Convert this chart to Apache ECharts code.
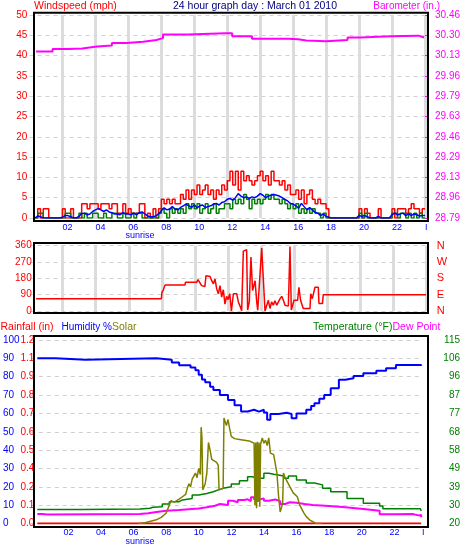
<!DOCTYPE html>
<html><head><meta charset="utf-8">
<script src="https://cdn.jsdelivr.net/npm/echarts@6/dist/echarts.min.js"></script>
<style>html,body{margin:0;padding:0;background:#fff}#c{width:463px;height:559px}</style>
</head><body><div id="c"></div>
<script>
// ---------- tick labels ----------
const hourLabels = ['', '02', '04', '06', '08', '10', '12', '14', '16', '18', '20', '22', 'I'];
const baroLabels = ['28.79','28.96','29.13','29.29','29.46','29.63','29.79','29.96','30.13','30.30','30.46'];
const dirLabels = ['N', 'E', 'S', 'W', 'N'];
const rainLabels = ['0.0','0.1','0.2','0.4','0.5','0.6','0.7','0.8','0.9','1.1','1.2'];
const tempLabels = ['20','30','39','49','58','68','77','87','96','106','115'];

// ---------- wind (10-minute samples, starting 00:00) ----------
const WIND_T0 = 0, WIND_DT = 1 / 6;
const windGust = [
  null,null,0,2.3,0,2.3,      // 00
  2.3,0,0,0,0,0,              // 01
  2.3,0,0,2.3,0,0,            // 02
  0,3.5,3.5,2.3,3.5,3.5,      // 03
  3.5,2.3,3.5,3.5,3.5,2.3,    // 04
  3.5,3.5,1.2,1.2,3.5,1.2,    // 05
  2.3,1.2,1.2,1.2,3.5,3.5,    // 06
  0,1.2,0,2.3,0,2.3,          // 07
  4.6,3.5,4.6,3.5,4.6,3.5,    // 08
  3.5,5.8,4.6,6.9,4.6,6.9,    // 09
  5.8,8.1,5.8,6.9,8.1,5.8,    // 10
  6.9,4.6,6.9,5.8,8.1,6.9,    // 11
  9.2,11.5,8.1,11.5,6.9,11.5, // 12
  9.2,10.4,9.2,8.1,9.2,10.4,  // 13
  11.5,9.2,10.4,8.1,11.5,9.2, // 14
  9.2,8.1,9.2,6.9,8.1,5.8,    // 15
  5.8,6.9,4.6,6.9,3.5,5.8,    // 16
  6.9,4.6,3.5,4.6,3.5,3.5,    // 17
  2.3,0,0,0,0,0,              // 18
  0,0,0,0,0,0,                // 19
  2.3,0,2.3,1.2,0,0,          // 20
  0,2.3,0,0,0,0,              // 21
  2.3,0,2.3,2.3,2.3,1.2,      // 22
  2.3,3.5,2.3,2.3,1.2,2.3     // 23
];
const windSpeed = [
  null,null,0,1.2,1.2,0,
  0,0,0,0,0,0,
  0,1.2,1.2,0,0,0,
  1.2,0,1.2,0,0,1.2,
  1.2,0,0,1.2,0,0,
  1.2,1.2,0,0,1.2,0,
  0,1.2,0,1.2,1.2,0,
  0,0,0,0,0,1.2,
  2.3,1.2,0,2.3,1.2,2.3,
  1.2,2.3,1.2,3.5,2.3,3.5,
  2.3,3.5,1.2,2.3,3.5,1.2,
  2.3,3.5,1.2,2.3,2.3,3.5,
  3.5,2.3,4.6,3.5,4.6,3.5,
  5.8,4.6,2.3,4.6,3.5,4.6,
  3.5,4.6,5.8,4.6,5.8,4.6,
  4.6,3.5,4.6,3.5,2.3,3.5,
  2.3,3.5,1.2,2.3,1.2,2.3,
  1.2,2.3,1.2,1.2,0,1.2,
  0,0,0,0,0,0,
  0,0,0,0,0,0,
  1.2,0,1.2,0,0,0,
  0,0,0,0,0,0,
  1.2,1.2,0,1.2,1.2,0,
  1.2,0,1.2,0,1.2,0
];
const windAvg = [
  null,null,0,0.5,0.3,0,
  0,0,0,0,0,0,
  0.2,0.6,0.6,0.3,0,0,
  0.4,1.1,1.2,0.8,1.0,1.6,
  2.0,2.3,2.0,1.6,2.0,1.5,
  1.3,1.0,1.0,0.8,1.3,1.0,
  1.0,0.8,1.2,0.8,1.3,1.5,
  1.0,0.5,0.3,0.3,0.5,1.0,
  1.8,2.5,2.0,2.2,2.8,2.2,
  2.0,2.6,3.0,3.4,3.0,2.6,
  3.2,2.5,3.0,3.2,2.6,2.8,
  3.0,3.4,3.6,3.2,3.8,4.0,
  4.6,4.8,4.4,5.0,6.0,5.4,
  5.0,5.2,4.8,5.2,5.0,5.4,
  6.0,5.6,5.0,5.4,5.6,5.8,
  5.6,5.4,5.0,4.6,4.2,3.6,
  3.4,3.0,2.4,3.6,2.8,2.0,
  2.6,2.0,1.4,1.2,0.6,1.0,
  0.4,0.2,0,0,0,0,
  0,0,0,0,0,0,
  0.6,0.4,0.6,0.3,0,0,
  0,0.4,0,0,0,0,
  0.8,1.2,0.8,1.0,1.2,0.6,
  1.0,0.6,1.0,0.8,0.5,0.6
];

// ---------- barometer (in.) ----------
const baroT = [0.4,1.4,2.3,3.2,4.1,5.0,5.9,6.9,7.7,8.1,9.6,11.9,12.3,13.5,15.7,16.3,16.8,18.0,19.3,20.1,21.9,23.6,23.95];
const baroV = [30.16,30.18,30.185,30.20,30.21,30.23,30.24,30.255,30.27,30.30,30.31,30.31,30.285,30.265,30.26,30.25,30.245,30.255,30.275,30.285,30.29,30.275,30.275];

// ---------- wind direction (deg) ----------
const dirT = [0.4,7.97,8.0,8.09,8.19,9.4,9.42,10.1,10.18,10.26,10.4,10.6,10.66,10.91,11.01,11.11,11.21,11.31,11.41,11.51,11.61,11.71,11.81,11.91,12.0,12.1,12.2,12.32,12.52,12.56,12.62,12.72,12.82,12.92,13.02,13.12,13.18,13.28,13.38,13.48,13.63,13.73,13.79,13.89,14.03,14.13,14.23,14.33,14.43,14.53,14.63,14.73,14.83,14.94,15.04,15.14,15.24,15.34,15.44,15.54,15.64,15.74,15.82,15.9,15.98,16.08,16.2,16.28,16.38,16.44,16.54,16.95,16.99,17.09,17.19,17.25,17.45,17.49,17.7,17.75,23.96];
const dirV = [68,68,103,117,144,144,158,158,173,176,140,135,194,190,167,150,176,122,95,140,77,117,38,81,63,95,0,95,95,86,50,27,2,330,333,338,5,50,297,113,167,50,5,14,347,338,0,5,59,14,50,32,56,32,50,68,81,59,32,32,27,356,5,32,59,50,59,131,59,50,14,14,95,68,59,131,131,41,41,90,90];

// ---------- humidity (%) ----------
const humT = [0.4,1.5,3.35,7.7,8.65,9.1,9.8,10.1,10.3,10.5,10.7,11.0,11.2,11.6,12.1,12.5,12.9,13.3,13.7,14.0,14.3,14.5,14.7,15.2,15.7,16.0,16.3,16.9,17.2,17.4,17.7,18.0,18.4,18.9,19.3,19.8,20.4,21.2,21.8,22.4,23.95];
const humV = [90,89.2,90,89.2,87.8,86.2,85,83.5,81,78.5,77,74.5,72.7,70,67.3,64.5,61,62,61,62,60.5,56.5,59.7,60.3,59.7,57.3,60,62,64,65.5,68,70,73.7,78.3,79.1,80.4,81.9,83.3,84.6,86.4,86];

// ---------- temperature & dew point (°F) ----------
const tempT = [0.4,3.1,6.7,7.3,7.5,8.07,8.5,9.1,9.3,9.9,10.3,10.8,11.2,11.5,11.8,12.3,12.8,13.3,13.6,13.9,14.3,14.6,14.9,15.2,15.5,15.8,16.3,16.9,17.4,17.9,18.4,19.4,20.4,21.4,21.6,23.9,23.95];
const tempV = [27.3,27.5,27.9,28.4,28.7,30.1,31.3,32.2,33.0,34.7,35.5,36.4,37.4,38.2,39.0,40.5,42.1,44.2,43.4,43.4,46.0,45.5,45.1,44.6,43.4,44.6,42.5,41.0,40.0,38.3,36.4,33.0,30.5,29.0,27.7,27.3,26.5];
const dewT = [0.4,0.7,1.0,6.7,7.2,7.6,8.3,9.1,9.7,10.3,10.8,11.3,11.6,12.1,12.4,12.7,13.1,13.3,13.5,13.7,14.0,14.3,14.6,15.0,15.3,15.6,15.9,16.3,16.8,17.3,18.3,19.3,20.4,21.4,22.4,23.4,23.8,23.95];
const dewV = [24.9,24.6,24.9,25.3,25.8,26.6,27.0,27.4,27.8,28.4,29.2,30.1,29.6,31.8,31.0,32.2,32.5,31.6,33.6,32.4,33.0,31.8,32.4,31.6,30.1,31.0,30.8,30.1,29.6,29.0,28.4,27.5,26.6,24.8,24.9,24.2,24.4,23.2];

// ---------- solar (W/m²) ----------
const solT = [6.6,7.0,7.7,8.0,8.3,8.5,8.6,8.8,9.1,9.3,9.5,9.6,9.7,9.8,9.9,10.0,10.1,10.2,10.3,10.4,10.45,10.5,10.55,10.7,10.8,10.9,11.0,11.1,11.2,11.4,11.5,11.55,11.8,11.85,11.95,12.0,12.1,12.2,12.3,12.5,12.8,13.1,13.4,13.7,13.75,13.8,13.85,13.9,13.95,14.0,14.05,14.1,14.2,14.3,14.4,14.5,14.6,14.7,14.9,15.0,15.1,15.2,15.3,15.4,15.45,15.5,15.6,15.7,15.9,16.1,16.35,16.5,16.75,16.9,17.1,17.5,17.85];
const solV = [0,5,24,40,67,120,150,140,160,175,190,230,260,240,290,280,330,300,360,320,630,560,220,260,330,530,480,420,410,400,380,220,230,690,700,640,680,620,570,555,550,545,540,525,120,530,100,535,140,530,110,520,560,525,545,510,560,460,450,440,330,180,75,80,130,330,300,290,240,200,175,120,70,45,24,0,0];

// ---------- rainfall (in) ----------
const rainT = [0.4, 23.95];
const rainV = [0, 0];

// ---------- helpers ----------
const pairs = (t, v) => t.map((x, i) => [x, v[i]]);
function windPairs(arr) {
  const d = arr.map((v, i) => [WIND_T0 + i * WIND_DT, v]);
  d.push([24, arr[arr.length - 1]]);
  return d;
}

const FONT = 'Liberation Sans';
const GL = 29.5, GR = 463 - 426.7;
const vGrid = ['transparent','#dcdcdc','#dcdcdc','#dcdcdc','#dcdcdc','#dcdcdc','#dcdcdc','#dcdcdc','#dcdcdc','#dcdcdc','#dcdcdc','#dcdcdc','#dcdcdc'];
const dash = { show: true, lineStyle: { color: '#d0d0d0', type: [4, 4], width: 1 } };

function xAx(grid, showLabels, vlines) {
  return {
    type: 'value', gridIndex: grid, min: 0, max: 24, interval: 2,
    axisLine: { show: false, onZero: false }, axisTick: { show: false },
    axisLabel: {
      show: showLabels, color: '#0000ff', fontFamily: FONT, fontSize: 9, margin: 5, align: 'left',
      formatter: v => hourLabels[Math.round(v / 2)]
    },
    splitLine: { show: vlines, lineStyle: { color: vGrid, width: 3 } }
  };
}

function labAx(grid, pos, labels, color, extra) {
  return Object.assign({
    type: 'value', gridIndex: grid, position: pos, min: 0, max: labels.length - 1, interval: 1,
    axisLine: { show: false }, axisTick: { show: false }, splitLine: { show: false },
    axisLabel: { color: color, fontFamily: FONT, fontSize: 10, formatter: v => labels[Math.round(v)] }
  }, extra || {});
}

function hidAx(grid, min, max) {
  return { type: 'value', gridIndex: grid, min: min, max: max, show: false, splitLine: { show: false } };
}

const option = {
  animation: false,
  grid: [
    { left: GL, right: GR, top: 15, height: 203 },
    { left: GL, right: GR, top: 245.7, height: 65.3 },
    { left: GL, right: GR, top: 340, height: 183.5 }
  ],
  xAxis: [xAx(0, true, true), xAx(1, false, true), xAx(2, true, false)],
  yAxis: [
    { type: 'value', gridIndex: 0, position: 'left', min: 0, max: 50, interval: 5,
      axisLine: { show: false }, axisTick: { show: false }, splitLine: dash,
      axisLabel: { color: '#ff0000', fontFamily: FONT, fontSize: 10, margin: 2.2 } },
    labAx(0, 'right', baroLabels, '#ff00ff', {
      axisTick: { show: true, length: 4, lineStyle: { color: '#ff00ff', width: 1 } },
      axisLabel: { color: '#ff00ff', fontFamily: FONT, fontSize: 10, margin: 10, formatter: v => baroLabels[Math.round(v)] } }),
    hidAx(0, 28.79, 30.46),
    { type: 'value', gridIndex: 1, position: 'left', min: 0, max: 360, interval: 90,
      axisLine: { show: false }, axisTick: { show: false }, splitLine: dash,
      axisLabel: { color: '#ff0000', fontFamily: FONT, fontSize: 10, margin: -2.2 } },
    { type: 'value', gridIndex: 1, position: 'right', min: 0, max: 360, interval: 90,
      axisLine: { show: false }, axisTick: { show: false }, splitLine: { show: false },
      axisLabel: { color: '#ff0000', fontFamily: FONT, fontSize: 11, margin: 10, formatter: v => dirLabels[Math.round(v / 90)] } },
    { type: 'value', gridIndex: 2, position: 'left', min: 0, max: 100, interval: 10,
      axisLine: { show: false }, axisTick: { show: false }, splitLine: dash,
      axisLabel: { color: '#0000ff', fontFamily: FONT, fontSize: 10, margin: 27.8, align: 'left' } },
    labAx(2, 'left', rainLabels, '#ff0000', {
      axisLabel: { color: '#ff0000', fontFamily: FONT, fontSize: 10, margin: -3.5, align: 'right', formatter: v => rainLabels[Math.round(v)] } }),
    hidAx(2, 0, 1.2),
    labAx(2, 'right', tempLabels, '#008000', {
      axisLabel: { color: '#008000', fontFamily: FONT, fontSize: 10, margin: 38, align: 'right', formatter: v => tempLabels[Math.round(v)] } }),
    hidAx(2, 20, 115),
    hidAx(2, 0, 1200)
  ],
  series: [
    { name: 'Barometer', type: 'line', xAxisIndex: 0, yAxisIndex: 2, step: 'end', symbol: 'none',
      data: pairs(baroT, baroV), lineStyle: { color: '#ff00ff', width: 2 } },
    { name: 'Gust', type: 'line', xAxisIndex: 0, yAxisIndex: 0, step: 'end', symbol: 'none',
      data: windPairs(windGust), lineStyle: { color: '#ff0000', width: 1.5 } },
    { name: 'Wind', type: 'line', xAxisIndex: 0, yAxisIndex: 0, step: 'end', symbol: 'none',
      data: windPairs(windSpeed), lineStyle: { color: '#008000', width: 1.5 } },
    { name: 'Avg', type: 'line', xAxisIndex: 0, yAxisIndex: 0, symbol: 'none',
      data: windPairs(windAvg), lineStyle: { color: '#0000ff', width: 1.5 } },
    { name: 'Direction', type: 'line', xAxisIndex: 1, yAxisIndex: 3, symbol: 'none',
      data: pairs(dirT, dirV), lineStyle: { color: '#ff0000', width: 1.5 } },
    { name: 'Rain', type: 'line', xAxisIndex: 2, yAxisIndex: 7, symbol: 'none',
      data: pairs(rainT, rainV), lineStyle: { color: '#ff0000', width: 2 } },
    { name: 'Dew', type: 'line', xAxisIndex: 2, yAxisIndex: 9, step: 'end', symbol: 'none',
      data: pairs(dewT, dewV), lineStyle: { color: '#ff00ff', width: 2 } },
    { name: 'Temp', type: 'line', xAxisIndex: 2, yAxisIndex: 9, step: 'end', symbol: 'none',
      data: pairs(tempT, tempV), lineStyle: { color: '#008000', width: 1.5 } },
    { name: 'Humidity', type: 'line', xAxisIndex: 2, yAxisIndex: 5, step: 'end', symbol: 'none',
      data: pairs(humT, humV), lineStyle: { color: '#0000ff', width: 2 } },
    { name: 'Solar', type: 'line', xAxisIndex: 2, yAxisIndex: 10, symbol: 'none',
      data: pairs(solT, solV), lineStyle: { color: '#808000', width: 1.5 } }
  ],
  graphic: [
    { type: 'rect', silent: true, z: 100, shape: { x: 34, y: 12.7, width: 394, height: 208.3 }, style: { fill: 'none', stroke: '#000', lineWidth: 2 } },
    { type: 'rect', silent: true, z: 100, shape: { x: 34, y: 243, width: 394, height: 70 }, style: { fill: 'none', stroke: '#000', lineWidth: 2 } },
    { type: 'rect', silent: true, z: 100, shape: { x: 34, y: 336, width: 394, height: 191 }, style: { fill: 'none', stroke: '#000', lineWidth: 2 } },
    { type: 'text', x: 34, y: 6, style: { text: 'Windspeed (mph)', fill: '#ff0000', font: '10.5px ' + FONT, verticalAlign: 'middle' } },
    { type: 'text', x: 255, y: 6, style: { text: '24 hour graph day : March 01 2010', fill: '#000080', font: '10.5px ' + FONT, align: 'center', verticalAlign: 'middle' } },
    { type: 'text', x: 440, y: 6, style: { text: 'Barometer (in.)', fill: '#ff00ff', font: '10px ' + FONT, align: 'right', verticalAlign: 'middle' } },
    { type: 'text', x: 125.5, y: 236, style: { text: 'sunrise', fill: '#0000ff', font: '9px ' + FONT, verticalAlign: 'middle' } },
    { type: 'text', x: 125.5, y: 541.7, style: { text: 'sunrise', fill: '#0000ff', font: '9px ' + FONT, verticalAlign: 'middle' } },
    { type: 'text', x: 0.5, y: 327, style: { text: 'Rainfall (in)', fill: '#ff0000', font: '10.5px ' + FONT, verticalAlign: 'middle' } },
    { type: 'text', x: 112, y: 327, style: { text: 'Humidity %', fill: '#0000ff', font: '10px ' + FONT, align: 'right', verticalAlign: 'middle' } },
    { type: 'text', x: 112, y: 327, style: { text: 'Solar', fill: '#808000', font: '10.5px ' + FONT, verticalAlign: 'middle' } },
    { type: 'text', x: 313, y: 327, style: { text: 'Temperature (°F)', fill: '#008000', font: '10.5px ' + FONT, verticalAlign: 'middle' } },
    { type: 'text', x: 392.5, y: 327, style: { text: 'Dew Point', fill: '#ff00ff', font: '10.5px ' + FONT, verticalAlign: 'middle' } }
  ]
};
echarts.init(document.getElementById('c'), null, { renderer: 'canvas' }).setOption(option);
</script></body></html>
